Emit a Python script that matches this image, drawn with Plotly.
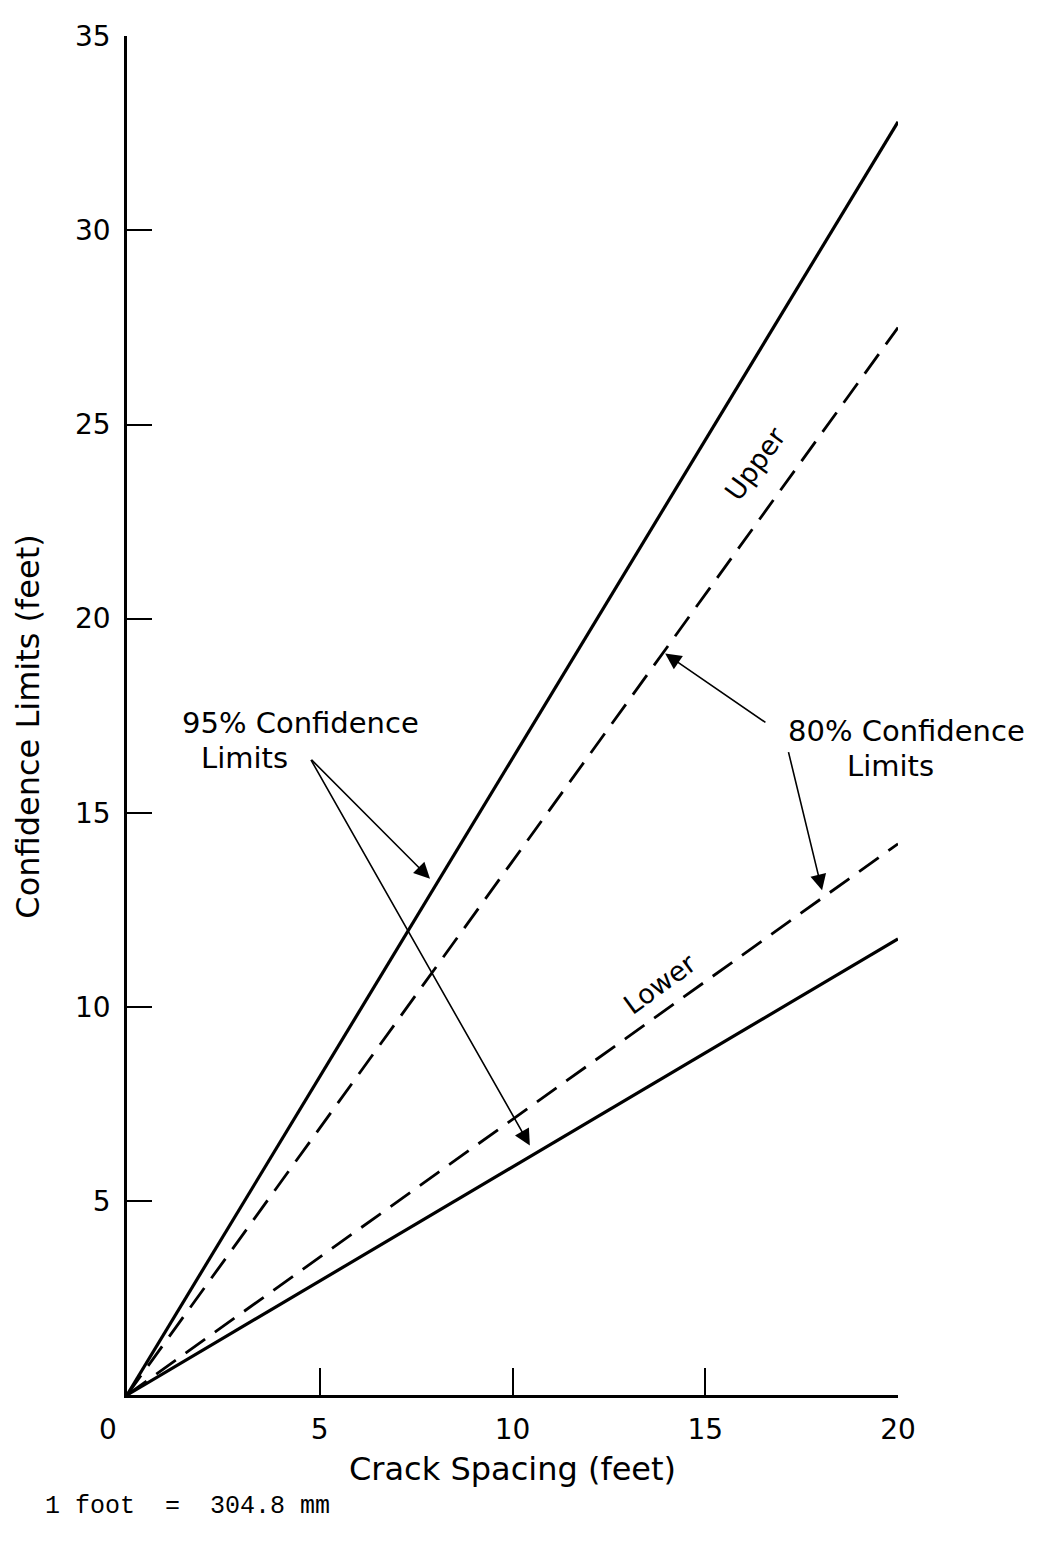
import plotly.graph_objects as go

# ---- data ----
crack_spacing = [0, 20]
upper_95 = [0, 32.8]
upper_80 = [0, 27.5]
lower_80 = [0, 14.2]
lower_95 = [0, 11.75]

x_ticks = [5, 10, 15, 20]
y_ticks = [5, 10, 15, 20, 25, 30, 35]

FONT = "DejaVu Sans"

fig = go.Figure()
solid = dict(color="black", width=3.2)
dashed = dict(color="black", width=2.8, dash="24px,12px")
fig.add_trace(go.Scatter(x=crack_spacing, y=upper_95, mode="lines", line=solid, name="Upper 95%"))
fig.add_trace(go.Scatter(x=crack_spacing, y=upper_80, mode="lines", line=dashed, name="Upper 80%"))
fig.add_trace(go.Scatter(x=crack_spacing, y=lower_80, mode="lines", line=dashed, name="Lower 80%"))
fig.add_trace(go.Scatter(x=crack_spacing, y=lower_95, mode="lines", line=solid, name="Lower 95%"))

ann = []
tfont = dict(family=FONT, size=29, color="black")
arrow_style = dict(text="", showarrow=True, arrowhead=2, arrowsize=2.0, arrowwidth=1.6,
                   arrowcolor="black", standoff=0, startstandoff=0,
                   xref="x", yref="y", axref="x", ayref="y")
centered = dict(xanchor="center", yanchor="middle", showarrow=False)
# 95% label and arrows
ann.append(dict(x=4.49, y=17.3, xref="x", yref="y", text="95% Confidence", font=tfont, **centered))
ann.append(dict(x=3.06, y=16.4, xref="x", yref="y", text="Limits", font=tfont, **centered))
for tx, ty in [(7.86, 13.3), (10.45, 6.43)]:
    ann.append(dict(x=tx, y=ty, ax=4.75, ay=16.4, **arrow_style))
# 80% label and arrows (label sits beyond x=20, so use paper coords)
ann.append(dict(x=20.23 / 20, y=17.1 / 35, xref="paper", yref="paper", text="80% Confidence",
                font=tfont, **centered))
ann.append(dict(x=19.8 / 20, y=16.2 / 35, xref="paper", yref="paper", text="Limits",
                font=tfont, **centered))
ann.append(dict(x=13.96, y=19.1, ax=16.6, ay=17.3, **arrow_style))
ann.append(dict(x=18.03, y=13.0, ax=17.15, ay=16.6, **arrow_style))
# Upper / Lower labels
ann.append(dict(x=16.3, y=24.0, xref="x", yref="y", text="Upper", textangle=-54,
                font=dict(family=FONT, size=27, color="black"), **centered))
ann.append(dict(x=13.83, y=10.6, xref="x", yref="y", text="Lower", textangle=-36,
                font=dict(family=FONT, size=27, color="black"), **centered))
# x tick label "0" (offset left of the axis as in the original)
ann.append(dict(x=-0.0246, y=-0.0255, xref="paper", yref="paper", text="0",
                font=dict(family=FONT, size=28, color="black"), **centered))
# axis titles
ann.append(dict(x=-0.128, y=0.492, xref="paper", yref="paper", text="Confidence Limits (feet)",
                textangle=-90, font=dict(family=FONT, size=32, color="black"), **centered))
ann.append(dict(x=0.4994, y=-0.0547, xref="paper", yref="paper", text="Crack Spacing (feet)",
                font=dict(family=FONT, size=32, color="black"), **centered))
ann.append(dict(x=-0.109, y=-0.0824, xref="paper", yref="paper", xanchor="left", yanchor="middle",
                text="1 foot  =  304.8 mm", showarrow=False,
                font=dict(family="Liberation Mono", size=25, color="black")))

fig.update_layout(
    width=1043, height=1525,
    margin=dict(l=119, r=153, t=16, b=138),
    paper_bgcolor="white", plot_bgcolor="white",
    showlegend=False,
    annotations=ann,
    xaxis=dict(range=[0, 20], tickvals=x_ticks, ticks="inside", ticklen=27, tickwidth=1.5,
               tickcolor="black", showline=True, linewidth=2.5, linecolor="black",
               showgrid=False, zeroline=False, ticklabelstandoff=8,
               tickfont=dict(family=FONT, size=28, color="black")),
    yaxis=dict(range=[0, 35.01], tickvals=y_ticks, ticks="inside", ticklen=25, tickwidth=1.5,
               tickcolor="black", showline=True, linewidth=2.5, linecolor="black",
               showgrid=False, zeroline=False, ticklabelstandoff=8,
               tickfont=dict(family=FONT, size=28, color="black")),
)

fig.write_html("out.html")
